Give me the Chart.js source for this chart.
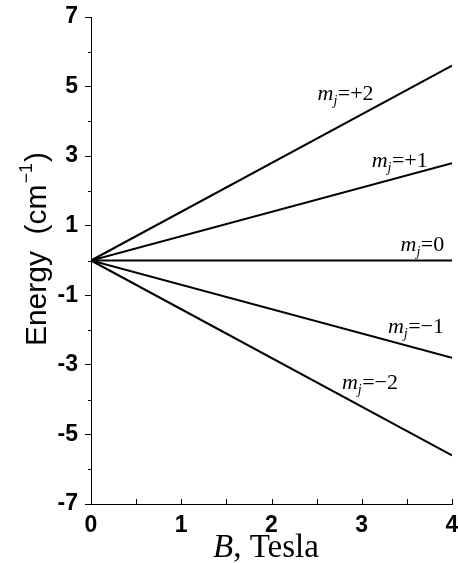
<!DOCTYPE html>
<html>
<head>
<meta charset="utf-8">
<script src="https://cdn.jsdelivr.net/npm/chart.js@4/dist/chart.umd.min.js"></script>
<style>
  html, body { margin: 0; padding: 0; background: #fff; }
  #wrap { width: 458px; height: 563px; }
</style>
</head>
<body>
<div id="wrap"><canvas id="c" width="458" height="563"></canvas></div>
<script>
// ---- data ----
const fieldB = [0, 4];                 // B, Tesla
const energyMjPlus2 = [0, 5.6];
const energyMjPlus1 = [0, 2.8];
const energyMj0 = [0, 0];
const energyMjMinus1 = [0, -2.8];
const energyMjMinus2 = [0, -5.6];
const seriesNames = ['+2', '+1', '0', '−1', '−2'];
const seriesValues = [energyMjPlus2, energyMjPlus1, energyMj0, energyMjMinus1, energyMjMinus2];

const xTickValues = [0, 1, 2, 3, 4];
const xMinorTicks = [0.5, 1.5, 2.5, 3.5];
const yTickValues = [-7, -5, -3, -1, 1, 3, 5, 7];
const yMinorTicks = [-6, -4, -2, 0, 2, 4, 6];

// label anchors (data units: B, E at text baseline-left)
const labelB = [2.51, 3.11, 3.43, 3.29, 2.78];
const labelE = [4.62, 2.70, 0.26, -2.07, -3.70];

const fmt = v => (v < 0 ? '-' + Math.abs(v) : String(v));

const datasets = seriesValues.map((vals, i) => ({
  label: 'mj=' + seriesNames[i],
  data: fieldB.map((b, k) => ({ x: b, y: vals[k] })),
  showLine: true,
  borderColor: '#000',
  borderWidth: 2,
  pointRadius: 0,
  fill: false,
  tension: 0
}));

const decor = {
  id: 'decor',
  afterDraw(chart) {
    const ctx = chart.ctx;
    const xs = chart.scales.x, ys = chart.scales.y;
    const area = chart.chartArea;
    ctx.save();
    ctx.strokeStyle = '#000';
    ctx.lineWidth = 1;
    // y minor ticks (outward)
    yMinorTicks.forEach(v => {
      const y = Math.round(ys.getPixelForValue(v)) + 0.5;
      ctx.beginPath();
      ctx.moveTo(area.left - 3, y);
      ctx.lineTo(area.left, y);
      ctx.stroke();
    });
    // x ticks (inward)
    xTickValues.concat(xMinorTicks).forEach(v => {
      const x = Math.round(xs.getPixelForValue(v)) + 0.5;
      ctx.beginPath();
      ctx.moveTo(x, area.bottom);
      ctx.lineTo(x, area.bottom - 5);
      ctx.stroke();
    });
    // series labels
    ctx.fillStyle = '#000';
    ctx.textBaseline = 'alphabetic';
    ctx.textAlign = 'left';
    seriesNames.forEach((name, i) => {
      let x = xs.getPixelForValue(labelB[i]);
      const y = ys.getPixelForValue(labelE[i]);
      ctx.font = 'italic 22px "Liberation Serif"';
      ctx.fillText('m', x, y);
      x += ctx.measureText('m').width;
      ctx.font = 'italic 14px "Liberation Serif"';
      ctx.fillText('j', x, y + 5);
      x += ctx.measureText('j').width + 0.5;
      ctx.font = '22px "Liberation Serif"';
      ctx.fillText('=' + name, x, y);
    });
    // x title
    ctx.font = 'italic 33px "Liberation Serif"';
    const wB = ctx.measureText('B').width;
    ctx.font = '33px "Liberation Serif"';
    const wRest = ctx.measureText(', Tesla').width;
    const cx = 266;
    let tx = cx - (wB + wRest) / 2;
    ctx.font = 'italic 33px "Liberation Serif"';
    ctx.fillText('B', tx, 557);
    ctx.font = '33px "Liberation Serif"';
    ctx.fillText(', Tesla', tx + wB, 557);
    // y title (rotated)
    ctx.translate(46, 250);
    ctx.rotate(-Math.PI / 2);
    ctx.font = '30px "Liberation Sans"';
    const p1 = 'Energy  (cm', p3 = ')';
    const w1 = ctx.measureText(p1).width;
    const w3 = ctx.measureText(p3).width;
    ctx.font = '18px "Liberation Sans"';
    const w2 = ctx.measureText('−1').width;
    let sx = -(w1 + w2 + w3) / 2;
    ctx.font = '30px "Liberation Sans"';
    ctx.fillText(p1, sx, 0);
    ctx.font = '18px "Liberation Sans"';
    ctx.fillText('−1', sx + w1 + 1, -14);
    ctx.font = '30px "Liberation Sans"';
    ctx.fillText(p3, sx + w1 + w2 + 2, 0);
    ctx.restore();
  }
};

new Chart(document.getElementById('c'), {
  type: 'scatter',
  data: { datasets },
  options: {
    responsive: false,
    animation: false,
    events: [],
    layout: { padding: { top: 17, right: 6, bottom: 0, left: 0 } },
    plugins: { legend: { display: false }, tooltip: { enabled: false } },
    scales: {
      x: {
        type: 'linear',
        min: 0, max: 4,
        afterBuildTicks: s => { s.ticks = xTickValues.map(v => ({ value: v })); },
        afterFit: s => { s.height = 59; s.paddingRight = 0; s.paddingLeft = 0; },
        grid: { display: false },
        border: { display: true, color: '#000', width: 1 },
        ticks: {
          color: '#000', padding: 0,
          font: { family: 'Liberation Sans', size: 23, weight: 'bold' },
          maxRotation: 0,
          callback: v => fmt(v)
        }
      },
      y: {
        type: 'linear',
        min: -7, max: 7,
        afterBuildTicks: s => { s.ticks = yTickValues.map(v => ({ value: v })); },
        afterFit: s => { s.width = 91; s.paddingTop = 0; s.paddingBottom = 0; },
        grid: { drawOnChartArea: false, drawTicks: true, tickLength: 6, color: '#000', lineWidth: 1 },
        border: { display: true, color: '#000', width: 1 },
        ticks: {
          color: '#000', padding: 7,
          font: { family: 'Liberation Sans', size: 23, weight: 'bold' },
          callback: v => fmt(v)
        }
      }
    }
  },
  plugins: [decor]
});
</script>
</body>
</html>
